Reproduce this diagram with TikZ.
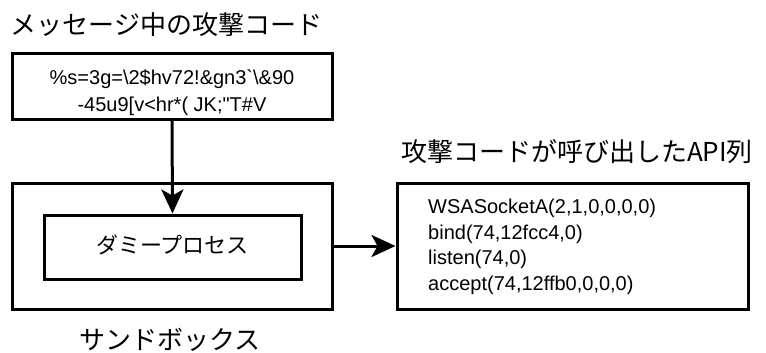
\documentclass[tikz,border=0pt]{standalone}
\usepackage{fontspec}
\setmainfont{Liberation Sans}[Ligatures=TeXOff]
\newfontfamily\jp{Noto Sans CJK JP}
\usetikzlibrary{arrows.meta}
\begin{document}
\begin{tikzpicture}[x=1pt,y=-1pt,
  box/.style={draw=black,line width=3pt,inner sep=0pt},
  jptitle/.style={font=\jp\fontsize{26}{30}\selectfont,inner sep=0pt},
  conn/.style={line width=3pt,-{Stealth[length=24pt,width=22pt,inset=6pt]}}]
\useasboundingbox (0,0) rectangle (766,353);
% top box with attack code
\node[jptitle] (t1) at (166.5,25) {メッセージ中の攻撃コード};
\node[box,minimum width=320pt,minimum height=65pt] (code) at (172,86.5) {};
\node[align=center,inner sep=0pt,font=\fontsize{20}{27}\selectfont] (codetxt) at (172,92.5)
  {\%s=3g=\textbackslash2\$hv72!\&gn3\symbol{"60}\textbackslash\&90\\-45u9[v<hr*( JK;\symbol{"22}T\#V};
% sandbox
\node[box,minimum width=320pt,minimum height=126pt] (sandbox) at (172,246) {};
\node[box,minimum width=257pt,minimum height=64pt] (dummy) at (172.5,247) {};
\node[inner sep=0pt,font=\jp\fontsize{22}{26}\selectfont] (dummytxt) at (172.5,245) {ダミープロセス};
\node[jptitle] (t3) at (170,340) {サンドボックス};
% API box
\node[jptitle] (t2) at (577,152) {攻撃コードが呼び出したAPI列};
\node[box,minimum width=351pt,minimum height=126pt] (api) at (572.5,246) {};
\node[anchor=west,align=left,inner sep=0pt,font=\fontsize{20}{25.5}\selectfont] (apitxt) at (428,247)
  {WSASocketA(2,1,0,0,0,0)\\bind(74,12fcc4,0)\\listen(74,0)\\accept(74,12ffb0,0,0,0)};
% connectors
\draw[conn] (code.south) -- (dummy.north);
\draw[conn] (sandbox.east) -- (api.west);
\end{tikzpicture}
\end{document}
